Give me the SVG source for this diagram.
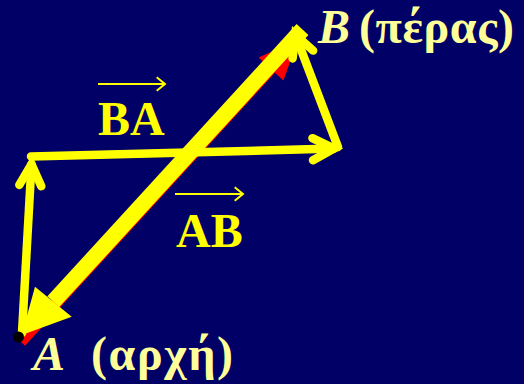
<svg xmlns="http://www.w3.org/2000/svg" width="524" height="384" viewBox="0 0 524 384">
<defs>
<style>
.bg{fill:#000066}
.thin{stroke:#FFFF00;stroke-width:8.5;fill:none;stroke-linecap:round}
.vec{stroke:#FFFF00;stroke-width:2;fill:none;stroke-linecap:butt;stroke-linejoin:miter}
.lbl{font-family:"Liberation Serif","Times New Roman",serif;font-size:48px;font-weight:bold;fill:#FFFF99}
.it{font-style:italic}
.vlbl{font-family:"Liberation Serif","Times New Roman",serif;font-size:48px;font-weight:bold;fill:#FFFF00}
</style>
<marker id="open" markerUnits="userSpaceOnUse" orient="auto" refX="0" refY="0" overflow="visible">
<path d="M-21.3,-11 L0,0 L-21.3,11" fill="none" stroke="#FFFF00" stroke-width="8.5" stroke-linecap="round" stroke-linejoin="miter"/>
</marker>
</defs>
<rect class="bg" x="0" y="0" width="524" height="384"/>
<g id="connectors">
<g id="arrow-AB-red">
<line x1="21" y1="342" x2="271" y2="69" stroke="#FF0000" stroke-width="11"/>
<polygon points="258.6,57.5 298,39.6 283.4,80.5" fill="#FF0000"/>
</g>
<g id="arrow-BA-yellow">
<line x1="302.5" y1="29.5" x2="53.3" y2="301.7" stroke="#FFFF00" stroke-width="16"/>
<polygon points="21.7,335 35,286.7 71.7,316.7" fill="#FFFF00"/>
</g>
<line id="path-1" class="thin" x1="22" y1="333" x2="31.5" y2="164.3" marker-end="url(#open)"/>
<line id="path-2" class="thin" x1="31" y1="156.5" x2="334" y2="148.6" stroke-linecap="butt" marker-end="url(#open)"/>
<line id="path-3" class="thin" x1="338" y1="147" x2="295.3" y2="34.6" stroke-linecap="butt" marker-end="url(#open)"/>
</g>
<g id="point-A">
<circle cx="18.5" cy="337" r="5.5" fill="#000000"/>
<text class="lbl it" x="33" y="370">A</text>
<text class="lbl" x="91" y="370" textLength="142">(αρχή)</text>
</g>
<g id="point-B">
<text class="lbl it" x="318" y="43">B</text>
<text class="lbl" x="359" y="43" textLength="155">(πέρας)</text>
</g>
<g id="label-BA">
<path class="vec" d="M98,84 H165 M156.7,77.3 L165,84 L156.7,90.7"/>
<text class="vlbl" x="98" y="135">BA</text>
</g>
<g id="label-AB">
<path class="vec" d="M175,194 H243 M234.7,187.3 L243,194 L234.7,200.7"/>
<text class="vlbl" x="176" y="247">AB</text>
</g>
</svg>
